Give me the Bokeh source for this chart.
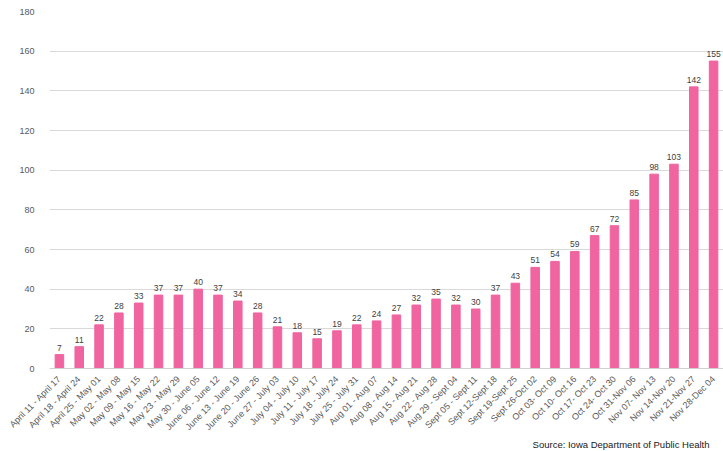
from bokeh.plotting import figure
from bokeh.models import ColumnDataSource, Range1d, FactorRange, Title
from bokeh.core.properties import value
from bokeh.embed import file_html
from bokeh.resources import INLINE
import math

weeks = ["April 11 - April 17", "April 18 - April 24", "April 25 - May 01", "May 02 - May 08",
         "May 09 - May 15", "May 16 - May 22", "May 23 - May 29", "May 30 - June 05",
         "June 06 - June 12", "June 13 - June 19", "June 20 - June 26", "June 27 - July 03",
         "July 04 - July 10", "July 11 - July 17", "July 18 - July 24", "July 25 - July 31",
         "Aug 01 - Aug 07", "Aug 08 - Aug 14", "Aug 15 - Aug 21", "Aug 22 - Aug 28",
         "Aug 29 - Sept 04", "Sept 05 - Sept 11", "Sept 12-Sept 18", "Sept 19-Sept 25",
         "Sept 26-Oct 02", "Oct 03- Oct 09", "Oct 10- Oct 16", "Oct 17- Oct 23",
         "Oct 24- Oct 30", "Oct 31-Nov 06", "Nov 07- Nov 13", "Nov 14-Nov 20",
         "Nov 21-Nov 27", "Nov 28-Dec 04"]
counts = [7, 11, 22, 28, 33, 37, 37, 40, 37, 34, 28, 21, 18, 15, 19, 22, 24, 27, 32, 35,
          32, 30, 37, 43, 51, 54, 59, 67, 72, 85, 98, 103, 142, 155]
y_ticks = [0, 20, 40, 60, 80, 100, 120, 140, 160, 180]
source_note = "Source: Iowa Department of Public Health"

FONT = "Liberation Sans"
src = ColumnDataSource(dict(week=weeks, count=counts, label=[str(c) for c in counts]))

p = figure(width=723, height=451, output_backend="svg", toolbar_location=None,
           x_range=FactorRange(*weeks, range_padding=0), y_range=Range1d(0, 180),
           min_border_left=49, min_border_right=0, min_border_top=11, min_border_bottom=80)
p.outline_line_color = None
p.background_fill_color = "white"
p.border_fill_color = "white"

p.vbar(x="week", top="count", width=0.43, source=src, color="#F0649F")
p.text(x="week", y="count", text="label", source=src, text_align="center",
       text_baseline="bottom", y_offset=-4, text_font=value(FONT),
       text_font_size="8.5px", text_color="#404040")

p.yaxis.ticker = y_ticks
p.yaxis.axis_line_color = None
p.yaxis.major_tick_line_color = None
p.yaxis.minor_tick_line_color = None
p.yaxis.major_label_text_font = FONT
p.yaxis.major_label_text_font_size = "9px"
p.yaxis.major_label_text_color = "#595959"
p.yaxis.major_label_standoff = 9

p.xaxis.axis_line_color = "#d0d0d0"
p.xaxis.major_tick_line_color = None
p.xaxis.minor_tick_line_color = None
p.xaxis.major_label_orientation = math.pi / 4
p.xaxis.major_label_text_font = FONT
p.xaxis.major_label_text_font_size = "9px"
p.xaxis.major_label_text_color = "#595959"
p.xaxis.major_label_standoff = 3

p.xgrid.grid_line_color = None
p.ygrid.grid_line_color = "#d9d9d9"

p.add_layout(Title(text=source_note, align="right", offset=14, standoff=0,
                   vertical_align="top",
                   text_font=FONT, text_font_size="9.5px", text_font_style="normal",
                   text_color="#202020"), "below")

open("out.html", "w").write(file_html(p, INLINE))
